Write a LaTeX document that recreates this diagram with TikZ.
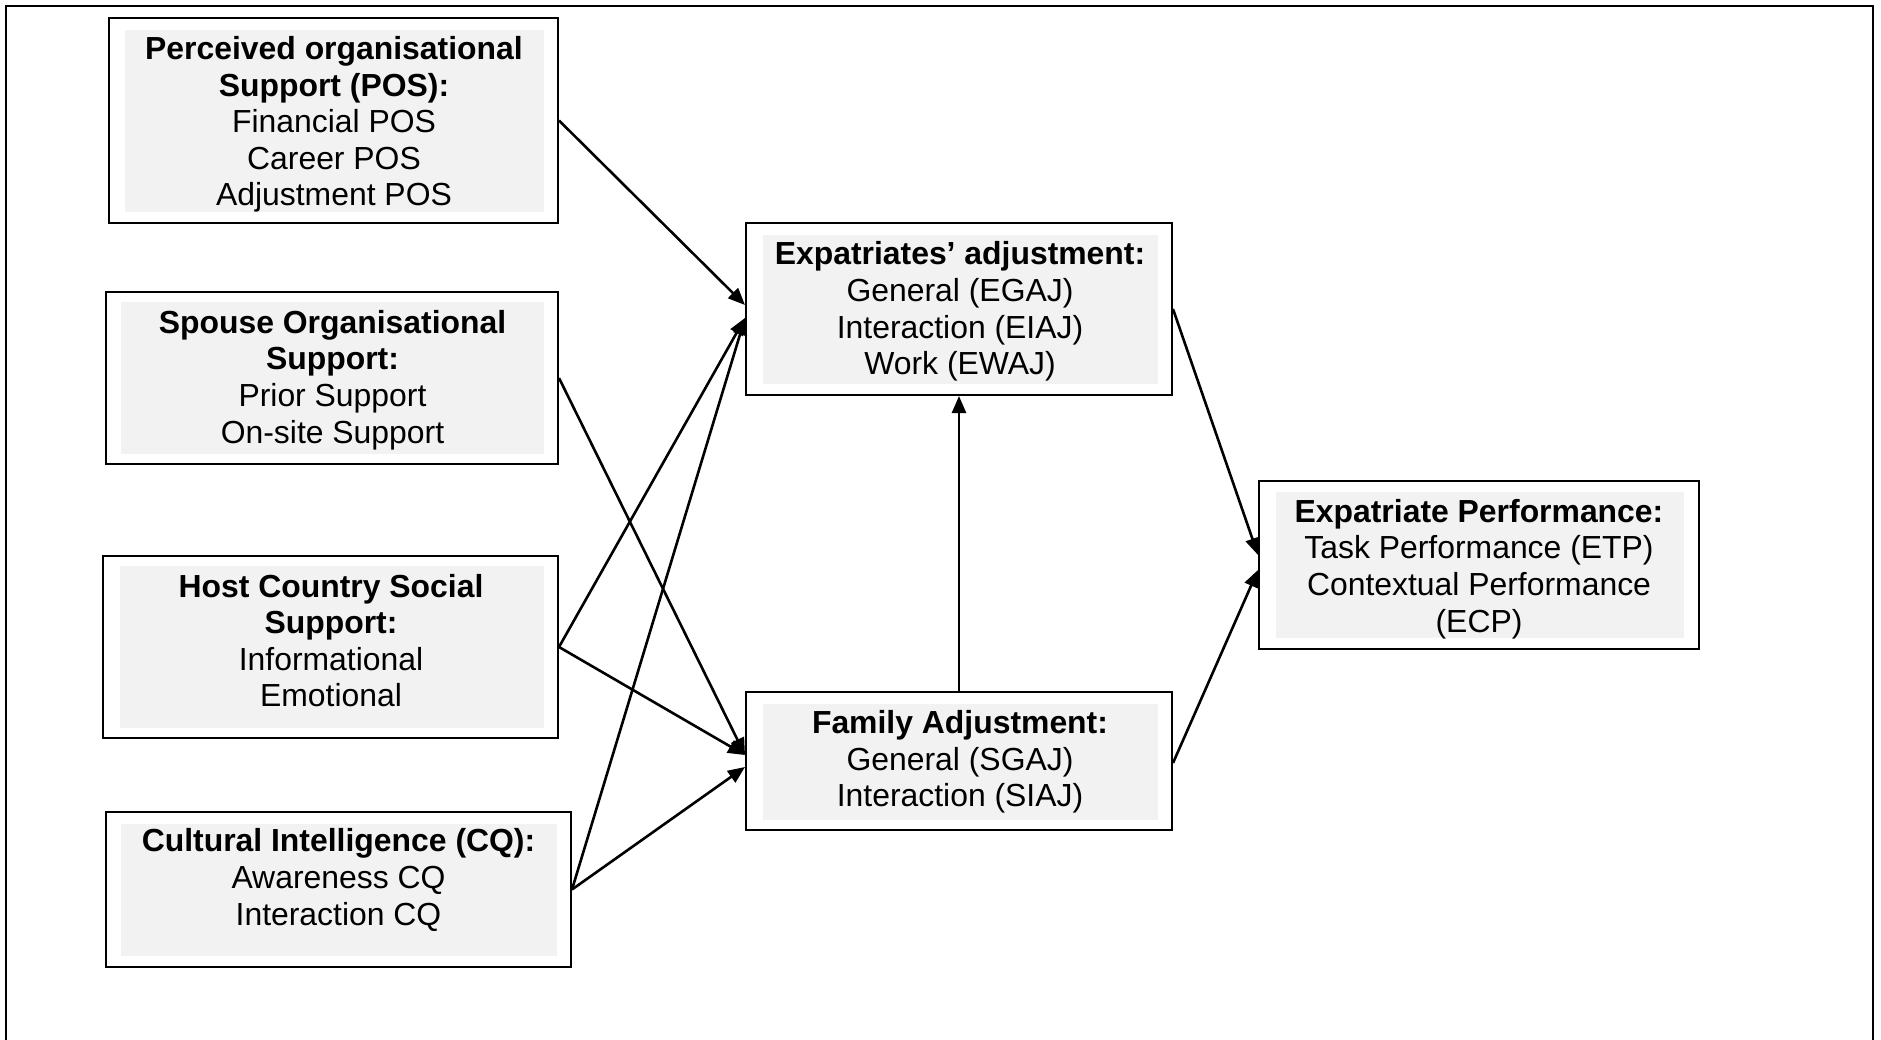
\documentclass[tikz,border=0pt]{standalone}
\usepackage{fontspec}
\setmainfont{Liberation Sans}
\usetikzlibrary{arrows.meta}
\definecolor{boxgray}{HTML}{F2F2F2}
\tikzset{
  outerbox/.style={draw=black, line width=2pt, rectangle, inner sep=0pt},
  txt/.style={align=center, inner sep=0pt, font=\fontsize{31.9}{36.6}\selectfont},
  conn/.style={line width=2.6pt, -{Triangle[length=17pt,width=14pt]}},
  frameline/.style={line width=2pt}
}
\begin{document}
\begin{tikzpicture}[x=1pt,y=-1pt]
\useasboundingbox (0,0) rectangle (1881,1040);
% frame
\draw[frameline] (6,1040) -- (6,6) -- (1873,6) -- (1873,1040);

% POS
\node[outerbox, minimum width=449pt, minimum height=205pt] (pos) at (333.5,120.5) {};
\fill[boxgray] (125,30) rectangle (544,212);
\node[txt] (post) at (334,124.5) {\textbf{Perceived organisational}\\\textbf{Support (POS):}\\Financial POS\\Career POS\\Adjustment POS};

% Spouse
\node[outerbox, minimum width=452pt, minimum height=172pt] (sos) at (332,378) {};
\fill[boxgray] (121,302) rectangle (544,454);
\node[txt] (sost) at (332.5,380) {\textbf{Spouse Organisational}\\\textbf{Support:}\\Prior Support\\On-site Support};

% Host
\node[outerbox, minimum width=455pt, minimum height=182pt] (host) at (330.5,647) {};
\fill[boxgray] (120,566) rectangle (544,728);
\node[txt] (hostt) at (331,640.5) {\textbf{Host Country Social}\\\textbf{Support:}\\Informational\\Emotional};

% CQ
\node[outerbox, minimum width=465pt, minimum height=155pt] (cq) at (338.5,889.5) {};
\fill[boxgray] (121,824) rectangle (557,956);
\node[txt] (cqt) at (338.5,880) {\textbf{Cultural Intelligence (CQ):}\\Awareness CQ\\Interaction CQ};

% Expatriates' adjustment
\node[outerbox, minimum width=426pt, minimum height=172pt] (ea) at (959,309) {};
\fill[boxgray] (763,235) rectangle (1158,384);
\node[txt] (eat) at (960,311.5) {\textbf{Expatriates’ adjustment:}\\General (EGAJ)\\Interaction (EIAJ)\\Work (EWAJ)};

% Family adjustment
\node[outerbox, minimum width=426pt, minimum height=138pt] (fa) at (959,761) {};
\fill[boxgray] (763,704) rectangle (1158,820);
\node[txt] (fat) at (960,762) {\textbf{Family Adjustment:}\\General (SGAJ)\\Interaction (SIAJ)};

% Performance
\node[outerbox, minimum width=440pt, minimum height=168pt] (perf) at (1479,565) {};
\fill[boxgray] (1276,492) rectangle (1684,638);
\node[txt] (perft) at (1479,569) {\textbf{Expatriate Performance:}\\Task Performance (ETP)\\Contextual Performance\\(ECP)};

% connectors
\draw[conn] (pos.east) -- ([yshift=4pt]ea.west);
\draw[conn] (host.east) -- ([yshift=-9pt]ea.west);
\draw[conn] (cq.east) -- ([yshift=-9pt]ea.west);
\draw[conn] (sos.east) -- ([yshift=6pt]fa.west);
\draw[conn] (host.east) -- ([yshift=6pt]fa.west);
\draw[conn] (cq.east) -- ([yshift=-6pt]fa.west);
\draw[conn] (fa.north) -- (ea.south);
\draw[conn] (ea.east) -- ([yshift=10pt]perf.west);
\draw[conn] ([yshift=-2pt]fa.east) -- ([yshift=-5pt]perf.west);
\end{tikzpicture}
\end{document}
